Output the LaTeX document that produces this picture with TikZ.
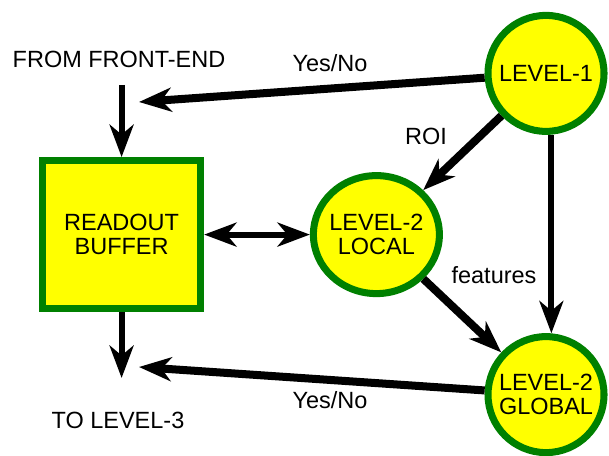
\documentclass[tikz,border=0pt]{standalone}
\usepackage{fontspec}
\setmainfont{Liberation Sans}
\usepackage{tikz}
\usetikzlibrary{shapes.geometric, arrows.meta}
\definecolor{trggreen}{RGB}{0,128,0}
\definecolor{trgyellow}{RGB}{255,255,0}

\begin{document}
\begin{tikzpicture}[
  font=\fontsize{16.7}{17}\selectfont,
  stage/.style={circle, draw=trggreen, line width=5pt, fill=trgyellow, align=center, inner sep=0pt, minimum size=2.9cm},
  bufbox/.style={rectangle, draw=trggreen, line width=5pt, fill=trgyellow, align=center, minimum width=3.95cm, minimum height=3.7cm},
  trgtip/.tip={Stealth[length=23pt,width=17pt,inset=7pt]},
  fatarrow/.style={-trgtip, line width=5.7pt},
  medarrow/.style={-trgtip, line width=4.3pt}
]
  \useasboundingbox (0,0) rectangle (15.225,11.375);

  % Trigger levels and readout buffer
  \node[stage] (lvlone) at (13.65,9.54) {LEVEL-1};
  \node[stage, ellipse, inner sep=-2mm, minimum width=3.15cm, minimum height=2.95cm] (local) at (9.41,5.51) {LEVEL-2\\LOCAL};
  \node[stage] (global) at (13.65,1.51) {LEVEL-2\\GLOBAL};
  \node[bufbox] (buffer) at (3.04,5.51) {READOUT\\BUFFER};

  % Texts
  \node (frontend) at (2.975,9.9) {FROM FRONT-END};
  \node (tolvlthree) at (2.95,0.875) {TO LEVEL-3};
  \node (ynone) at (8.25,9.8) {Yes/No};
  \node (yntwo) at (8.25,1.375) {Yes/No};
  \node (roi) at (10.65,7.975) {ROI};
  \node (feat) at (12.35,4.5) {features};

  % Free ends
  \coordinate (fein) at (3.04,9.25);
  \coordinate (ynonetip) at (3.475,8.825);
  \coordinate (l3out) at (3.04,1.925);
  \coordinate (yntwotip) at (3.475,2.2);

  % Data flow
  \draw[medarrow] (fein) -- (buffer.north);
  \draw[medarrow] (buffer.south) -- (l3out);
  \draw[medarrow, trgtip-trgtip] (buffer.east) -- (local.west);
  \draw[fatarrow] (lvlone) -- (ynonetip);
  \draw[fatarrow] (lvlone) -- (local);
  \draw[medarrow] (lvlone.-85) -- (global.85);
  \draw[fatarrow] (local) -- (global);
  \draw[fatarrow] (global) -- (yntwotip);

\end{tikzpicture}
\end{document}
